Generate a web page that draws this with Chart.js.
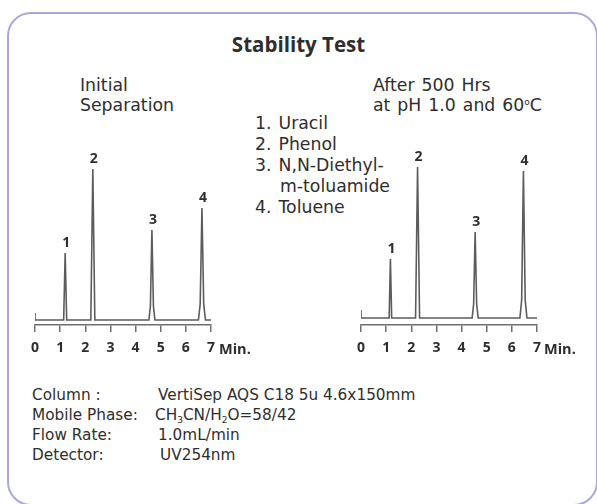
<!DOCTYPE html>
<html>
<head>
<meta charset="utf-8">
<script src="https://cdn.jsdelivr.net/npm/chart.js@4"></script>
<style>
  body { margin: 0; width: 597px; height: 504px; background: #fff; position: relative; overflow: hidden;
         font-family: 'DejaVu Sans', sans-serif; color: #2e2e2e; }
  .frame { position: absolute; left: 7px; top: 12px; width: 587px; height: 490px;
           border: 2.5px solid #a9a9dc; border-radius: 24px; }
  .t { position: absolute; white-space: nowrap; font-size: 15.3px; line-height: 20px; }
  .big { font-size: 17.3px; word-spacing: 1.5px; }
  .chartbox { position: absolute; }
  sub { font-size: 9px; vertical-align: -3px; line-height: 0; }
  sup { font-size: 9px; vertical-align: 6px; line-height: 0; }
</style>
</head>
<body>
<div class="frame"></div>

<div class="t" style="left:0; width:597px; top:32px; text-align:center; font-family:'Open Sans'; font-weight:bold; font-size:20.5px; line-height:24px;">Stability Test</div>

<div class="t big" style="left:80px; top:75px;">Initial<br>Separation</div>
<div class="t big" style="left:373px; top:75px;">After 500 Hrs<br>at pH 1.0 and 60<sup>o</sup>C</div>

<div class="t big" style="left:255px; top:113px; line-height:21px;">
  1. Uracil<br>2. Phenol<br>3. N,N-Diethyl-<br><span style="padding-left:25px">m-toluamide</span><br>4. Toluene
</div>

<div class="chartbox" style="left:15px; top:140px; width:216px; height:225px;"><canvas id="leftChart"></canvas></div>
<div class="chartbox" style="left:341px; top:140px; width:216px; height:225px;"><canvas id="rightChart"></canvas></div>

<div class="t" style="left:219px; top:339px; font-family:'Open Sans'; font-weight:bold; font-size:14.5px;">Min.</div>
<div class="t" style="left:544px; top:339px; font-family:'Open Sans'; font-weight:bold; font-size:14.5px;">Min.</div>

<div class="t" style="left:32px; top:385px;">Column :</div>
<div class="t" style="left:158px; top:385px;">VertiSep AQS C18 5u 4.6x150mm</div>
<div class="t" style="left:32px; top:405px;">Mobile Phase:</div>
<div class="t" style="left:155px; top:405px;">CH<sub>3</sub>CN/H<sub>2</sub>O=58/42</div>
<div class="t" style="left:32px; top:425px;">Flow Rate:</div>
<div class="t" style="left:158px; top:425px;">1.0mL/min</div>
<div class="t" style="left:32px; top:445px;">Detector:</div>
<div class="t" style="left:160px; top:445px;">UV254nm</div>

<script>
// retention time (min) and detector signal (mV)
const leftTime   = [0, 0, 1.14, 1.2, 1.26, 2.22, 2.3, 2.38, 4.53, 4.59, 4.65, 4.71, 4.77, 6.5, 6.57, 6.64, 6.71, 6.78, 7];
const leftSignal = [7, 0, 0, 67, 0, 0, 151, 0, 0, 14, 90, 14, 0, 0, 16, 112, 16, 0, 0];

const rightTime   = [0, 0, 1.12, 1.17, 1.22, 2.17, 2.25, 2.33, 4.42, 4.48, 4.54, 4.6, 4.66, 6.32, 6.39, 6.46, 6.53, 6.6, 7];
const rightSignal = [8, 0, 0, 59, 0, 0, 151, 0, 0, 14, 86, 14, 0, 0, 18, 147, 18, 0, 0];

const peakNumbers = ['1', '2', '3', '4'];
const leftPeakTimes = [1.2, 2.3, 4.65, 6.64];
const leftPeakHeights = [67, 151, 90, 112];
const rightPeakTimes = [1.17, 2.25, 4.54, 6.46];
const rightPeakHeights = [59, 151, 86, 147];

const traceColor = '#5c5c5c';
const axisColor = '#6e6e6e';

const peakLabels = {
    id: 'peakLabels',
    afterDatasetsDraw(chart, args, opts) {
        const ctx = chart.ctx;
        ctx.save();
        ctx.fillStyle = '#2e2e2e';
        ctx.font = 'bold 14px "Open Sans"';
        ctx.textAlign = 'center';
        ctx.textBaseline = 'bottom';
        opts.times.forEach((t, i) => {
            const x = chart.scales.x.getPixelForValue(t);
            const y = chart.scales.y.getPixelForValue(opts.heights[i]);
            ctx.fillText(peakNumbers[i], x + 1, y - 3);
        });
        ctx.restore();
    }
};

const makeChart = (id, times, signal, pTimes, pHeights, yMin) => {
    const points = times.map((t, i) => ({ x: t, y: signal[i] }));
    return new Chart(document.getElementById(id), {
        type: 'line',
        data: {
            datasets: [{
                data: points,
                borderColor: traceColor,
                borderWidth: 1.6,
                pointRadius: 0,
                tension: 0
            }]
        },
        options: {
            responsive: true,
            maintainAspectRatio: false,
            animation: false,
            layout: { padding: { left: 20, right: 20, top: 0, bottom: 0 } },
            scales: {
                x: {
                    type: 'linear',
                    min: 0,
                    max: 7,
                    afterFit: scale => { scale.height = 40; },
                    ticks: { stepSize: 1, color: '#2e2e2e', font: { family: 'Open Sans', size: 14, weight: 'bold' }, padding: 8, maxRotation: 0 },
                    grid: { drawOnChartArea: false, drawTicks: true, tickLength: 7, color: axisColor, lineWidth: 1.5 },
                    border: { color: axisColor, width: 1.5 }
                },
                y: { display: false, min: yMin, max: yMin + 185 }
            },
            plugins: {
                legend: { display: false },
                tooltip: { enabled: false },
                peakLabels: { times: pTimes, heights: pHeights }
            }
        },
        plugins: [peakLabels]
    });
};

makeChart('leftChart', leftTime, leftSignal, leftPeakTimes, leftPeakHeights, -5);
makeChart('rightChart', rightTime, rightSignal, rightPeakTimes, rightPeakHeights, -7);
</script>
</body>
</html>
